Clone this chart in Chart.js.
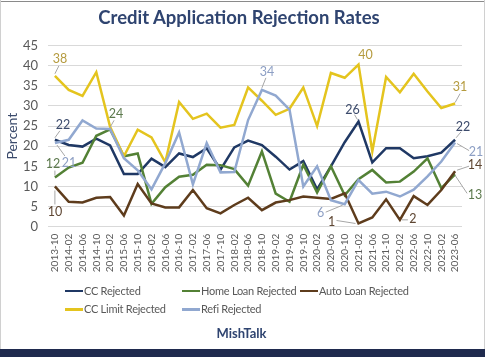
<!DOCTYPE html>
<html><head><meta charset="utf-8">
<script src="https://cdn.jsdelivr.net/npm/chart.js@4"></script>
<style>
html,body{margin:0;padding:0;background:#fff;}
#wrap{position:relative;width:485px;height:357px;overflow:hidden;background:#fff;font-family:Lato,'Open Sans',sans-serif;}
#c{position:absolute;left:0;top:0;}
.topline{position:absolute;left:0;top:1px;width:485px;height:1px;background:#8a8a8a;}
.sideL{position:absolute;left:0;top:0;width:1px;height:357px;background:#d0d0d0;}
.sideR{position:absolute;right:0;top:0;width:1px;height:357px;background:#d0d0d0;}
.bottombar{position:absolute;left:0;top:349px;width:485px;height:8px;background:#1f2a4e;}
.title{position:absolute;top:6px;left:239px;transform:translateX(-50%);white-space:nowrap;font-weight:bold;font-size:18.5px;line-height:22px;color:#2f4470;}
.leg{position:absolute;font-size:11px;letter-spacing:-0.25px;color:#595959;white-space:nowrap;line-height:16px;height:16px;}
.leg i{position:absolute;left:-19px;top:7px;width:18px;height:2.5px;}
.brand{position:absolute;top:325px;left:0;width:483px;text-align:center;font-weight:bold;font-size:13px;color:#2f4470;line-height:16px;}
</style></head>
<body>
<div id="wrap">
<canvas id="c" width="485" height="357"></canvas>
<div class="topline"></div><div class="sideL"></div><div class="sideR"></div>
<div class="title" id="title"></div>
<div id="legend"></div>
<div class="brand">MishTalk</div>
<div class="bottombar"></div>
</div>
<script>
const chartTitle = 'Credit Application Rejection Rates';
const categories = ['2013-10','2014-02','2014-06','2014-10','2015-02','2015-06','2015-10','2016-02','2016-06','2016-10',
  '2017-02','2017-06','2017-10','2018-02','2018-06','2018-10','2019-02','2019-06','2019-10','2020-02',
  '2020-06','2020-10','2021-02','2021-06','2021-10','2022-02','2022-06','2022-10','2023-02','2023-06'];

const ccRejected = [21.6, 20.3, 19.9, 21.9, 20.2, 13.1, 13.1, 16.9, 14.8, 18.2, 17.3, 19.5, 14.2, 19.7, 21.4,
  20.3, 17.4, 14.2, 16.3, 9.3, 15.0, 21.0, 26.1, 16.0, 19.5, 19.5, 17.0, 17.5, 18.4, 21.6];
const homeLoanRejected = [12.2, 14.7, 15.9, 22.6, 24.2, 17.5, 18.2, 5.7, 9.8, 12.4, 12.9, 15.4, 15.3, 14.3, 10.2,
  18.7, 8.2, 6.2, 15.4, 8.5, 15.0, 7.8, 11.8, 14.1, 11.0, 11.2, 13.7, 17.0, 9.6, 13.0];
const autoLoanRejected = [10.0, 6.2, 6.0, 7.2, 7.4, 2.8, 10.6, 5.8, 4.8, 4.8, 9.1, 4.6, 3.3, 5.4, 7.2,
  4.1, 6.0, 6.6, 7.5, 7.2, 6.9, 8.3, 0.8, 2.3, 6.8, 1.7, 7.6, 5.4, 9.1, 13.8];
const ccLimitRejected = [37.5, 34.0, 32.5, 38.4, 24.8, 17.5, 24.1, 22.2, 16.0, 31.0, 26.8, 28.1, 24.6, 25.3, 34.6,
  31.3, 27.8, 29.3, 34.6, 25.0, 38.2, 37.0, 40.3, 18.7, 37.2, 33.4, 38.0, 33.6, 29.5, 30.6];
const refiRejected = [20.8, 21.6, 26.4, 24.4, 24.3, 17.0, 14.0, 9.3, 15.8, 23.4, 10.5, 20.8, 13.5, 13.6, 26.5,
  34.0, 32.6, 29.1, 10.0, 15.0, 6.6, 5.6, 11.6, 8.2, 8.7, 7.5, 9.2, 12.5, 16.2, 20.9];

const seriesNames = ['CC Rejected','Home Loan Rejected','Auto Loan Rejected','CC Limit Rejected','Refi Rejected'];
const yMin = 0, yMax = 45, yStep = 5;

const FONT = 'Lato';
const lineColors = ['#1f3864','#538135','#5e3c1c','#e4c41e','#91a8d0'];
const labelColors = ['#3b4a6b','#5d7a4e','#5e4632','#b59b3f','#8d9fc4'];
const seriesData = [ccRejected, homeLoanRejected, autoLoanRejected, ccLimitRejected, refiRejected];

document.getElementById('title').textContent = chartTitle;

// label placements (style only): dataset index, point index, label offset, leader offsets
const labelPlacements = [
  {ds:3,i:0, dx:5,dy:-17, lead:[0,-2,4,-10]},
  {ds:0,i:0, dx:8,dy:-15, lead:[0,-2,5,-9]},
  {ds:1,i:0, dx:-2,dy:-13.5, lead:[0,-2,0,-7]},
  {ds:4,i:0, dx:14,dy:20, lead:[2,2,10,13]},
  {ds:2,i:0, dx:0,dy:26, lead:[0,4,0,18]},
  {ds:1,i:4, dx:6,dy:-15, lead:[0,-2,4,-9]},
  {ds:4,i:15, dx:5,dy:-18, lead:[0,-2,4,-12]},
  {ds:3,i:22, dx:7,dy:-10, lead:null},
  {ds:0,i:22, dx:-6,dy:-12, lead:[-1,-2,-4,-7]},
  {ds:3,i:29, dx:5,dy:-17, lead:[0,-1,5,-10]},
  {ds:0,i:29, dx:8,dy:-13, lead:[1,-2,6,-8]},
  {ds:4,i:29, dx:21,dy:9, lead:[2,1,14,8]},
  {ds:2,i:29, dx:20,dy:-6, lead:[2,-1,14,-5]},
  {ds:1,i:29, dx:20,dy:21, lead:[0,1,12,19]},
  {ds:4,i:21, dx:-24,dy:9, lead:[-2,1,-19,8]},
  {ds:2,i:22, dx:-27,dy:-2, lead:[-3,0,-22,-3]},
  {ds:2,i:25, dx:13,dy:-1, lead:[2,0,8,0]}
];

const pointLabelPlugin = {
  id:'pointLabels',
  afterDatasetsDraw(chart){
    const ctx = chart.ctx;
    ctx.save();
    labelPlacements.forEach(p=>{
      const el = chart.getDatasetMeta(p.ds).data[p.i];
      if(!el) return;
      const x = el.x, y = el.y;
      if(p.lead){
        ctx.strokeStyle = '#a6a6a6';
        ctx.lineWidth = 1;
        ctx.beginPath();
        ctx.moveTo(x+p.lead[0], y+p.lead[1]);
        ctx.lineTo(x+p.lead[2], y+p.lead[3]);
        ctx.stroke();
      }
      const v = seriesData[p.ds][p.i];
      ctx.fillStyle = labelColors[p.ds];
      ctx.font = '12.5px ' + FONT;
      ctx.textAlign = 'center';
      ctx.textBaseline = 'middle';
      ctx.fillText(String(Math.round(v)), x+p.dx, y+p.dy);
    });
    ctx.restore();
  }
};

const datasets = seriesData.map((d,k)=>({
  label: seriesNames[k],
  data: d,
  borderColor: lineColors[k],
  backgroundColor: lineColors[k],
  borderWidth: 2.5,
  pointRadius: 0,
  tension: 0,
  fill: false,
  order: 5-k
}));

new Chart(document.getElementById('c').getContext('2d'), {
  type:'line',
  data:{labels:categories, datasets},
  options:{
    responsive:false, animation:false, devicePixelRatio:1,
    layout:{padding:{left:0,right:23,top:45.6,bottom:0}},
    plugins:{ legend:{display:false}, tooltip:{enabled:false}, title:{display:false} },
    scales:{
      x:{offset:true, grid:{display:false,drawTicks:false}, border:{display:false},
        ticks:{autoSkip:false,minRotation:90,maxRotation:90,padding:7,color:'#595959',font:{family:FONT,size:10}},
        afterFit(s){ s.height = 130.3; }},
      y:{min:yMin,max:yMax,
        ticks:{stepSize:yStep,padding:10,color:'#595959',font:{family:FONT,size:13}},
        grid:{color:'#d9d9d9',drawTicks:false,lineWidth:1}, border:{display:false},
        title:{display:true,text:'Percent',color:'#3a4a6b',font:{family:FONT,size:14},padding:{top:4,bottom:0}},
        afterFit(s){ s.width = 48; }}
    }
  },
  plugins:[pointLabelPlugin]
});

// legend (HTML, column aligned like the reference)
const legendPos = [[84,290.7],[201,290.7],[319,290.7],[84,309.3],[201,309.3]];
const legEl = document.getElementById('legend');
seriesNames.forEach((n,k)=>{
  const d = document.createElement('div');
  d.className='leg';
  d.style.left = legendPos[k][0]+'px';
  d.style.top = (legendPos[k][1]-8)+'px';
  const sw = document.createElement('i');
  sw.style.background = lineColors[k];
  d.appendChild(sw);
  d.appendChild(document.createTextNode(n));
  legEl.appendChild(d);
});
</script>
</body></html>
